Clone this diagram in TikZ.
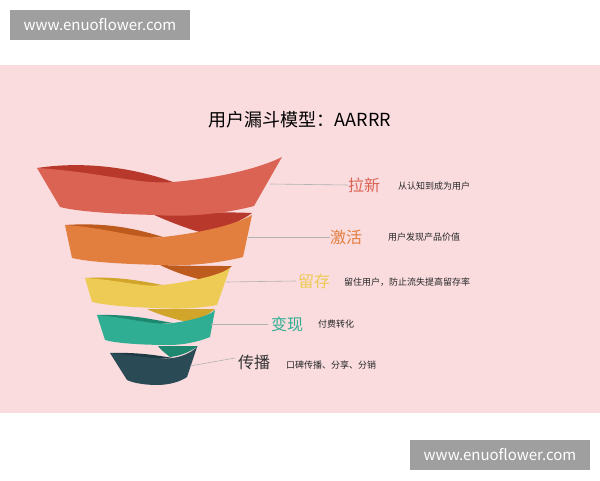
\documentclass[tikz,border=0pt]{standalone}
\usepackage{fontspec}
\setmainfont{Noto Sans CJK SC}
\begin{document}
\begin{tikzpicture}[x=1pt,y=-1pt,
  lead/.style={draw=gray!60,line width=0.6pt},
  big/.style={font=\fontsize{16}{18}\selectfont,anchor=west,inner sep=0},
  small/.style={font=\fontsize{9}{11}\selectfont,anchor=west,inner sep=0,text=black!85},
  wm/.style={fill=gray!75,text=white,font=\fontsize{15}{17}\selectfont,minimum width=180pt,minimum height=30pt,inner sep=0}]
\definecolor{bgp}{HTML}{FADCDF}
\definecolor{cr}{HTML}{DB6353}\definecolor{crd}{HTML}{B8392C}
\definecolor{co}{HTML}{E27E3E}\definecolor{cod}{HTML}{BD5A1E}
\definecolor{cy}{HTML}{EDCB55}\definecolor{cyd}{HTML}{D1A42A}
\definecolor{ct}{HTML}{30AE93}\definecolor{ctd}{HTML}{1E8770}
\definecolor{cn}{HTML}{2A4A56}\definecolor{cnd}{HTML}{1D3A44}
\useasboundingbox (0,0) rectangle (600,480);
\fill[white] (0,0) rectangle (600,480);
\fill[bgp] (0,65) rectangle (600,413);
\node[wm] (w1) at (100,25) {www.enuoflower.com};
\node[wm] (w2) at (500,455) {www.enuoflower.com};
\node[font=\fontsize{18}{20}\selectfont] (title) at (300,120) {用户漏斗模型：AARRR};
% red
\fill[crd] (37,168) .. controls (90,160) and (140,170) .. (173,182) -- (150,190) -- cycle;
\fill[crd] (150,213) .. controls (190,212) and (230,212) .. (252,213) .. controls (240,222) and (220,230) .. (203,233) .. controls (185,228) and (165,220) .. (150,213) -- cycle;
\fill[cr] (37,168) .. controls (100,172) and (140,185) .. (173,182) .. controls (220,178) and (260,168) .. (282,157) -- (254,206) .. controls (220,215) and (180,217) .. (157,215) .. controls (110,214) and (75,211) .. (60,207) -- cycle;
% orange
\fill[cod] (65,225) .. controls (110,222) and (140,230) .. (163,237) -- (120,240) -- cycle;
\fill[cod] (160,265) .. controls (190,266) and (215,266) .. (232,266) .. controls (225,272) and (215,278) .. (203,280) .. controls (185,276) and (170,270) .. (160,265) -- cycle;
\fill[co] (65,225) .. controls (110,228) and (140,240) .. (163,237) .. controls (200,233) and (235,225) .. (252,215) -- (243,257) .. controls (215,264) and (185,266) .. (163,265) .. controls (120,264) and (90,262) .. (72,258) -- cycle;
% yellow
\fill[cyd] (85,278) .. controls (120,276) and (145,282) .. (163,285) -- (120,290) -- cycle;
\fill[cyd] (147,309) .. controls (175,309) and (200,309) .. (215,309) .. controls (208,315) and (198,320) .. (187,322) .. controls (170,318) and (155,313) .. (147,309) -- cycle;
\fill[cy] (85,278) .. controls (120,280) and (145,288) .. (163,285) .. controls (195,281) and (220,275) .. (230,268) -- (217,305) .. controls (195,309) and (175,309) .. (157,308) .. controls (125,307) and (105,305) .. (92,302) -- cycle;
% teal
\fill[ctd] (97,315) .. controls (130,314) and (155,320) .. (173,323) -- (130,326) -- cycle;
\fill[ctd] (158,346) .. controls (175,346) and (190,346) .. (198,346) .. controls (190,352) and (180,356) .. (170,357) .. controls (165,353) and (160,349) .. (158,346) -- cycle;
\fill[ct] (97,315) .. controls (130,318) and (155,326) .. (173,323) .. controls (195,320) and (210,315) .. (215,310) -- (210,337) .. controls (195,343) and (180,345) .. (170,345) .. controls (140,345) and (115,343) .. (105,340) -- cycle;
% navy
\fill[cnd] (110,353) .. controls (140,352) and (160,356) .. (173,358) -- (140,360) -- cycle;
\fill[cn] (110,353) .. controls (140,356) and (160,360) .. (173,358) .. controls (185,356) and (193,351) .. (197,347) -- (187,377) .. controls (180,382) and (168,385) .. (157,385) .. controls (145,385) and (133,383) .. (127,380) -- cycle;
% labels
\node[big,text=cr] (l1) at (348,185) {拉新};
\node[small] (s1) at (398,186) {从认知到成为用户};
\node[big,text=co] (l2) at (330,237) {激活};
\node[small] (s2) at (388,237) {用户发现产品价值};
\node[big,text=cy] (l3) at (298,281) {留存};
\node[small] (s3) at (344,282) {留住用户，防止流失提高留存率};
\node[big,text=ct] (l4) at (271,324) {变现};
\node[small] (s4) at (318,324) {付费转化};
\node[big,text=black!80] (l5) at (238,362) {传播};
\node[small] (s5) at (286,365) {口碑传播、分享、分销};
\coordinate (a1) at (270,184); \coordinate (a2) at (248,237);
\coordinate (a3) at (226,282); \coordinate (a4) at (211,324);
\coordinate (a5) at (190,366);
\draw[lead] (a1) -- (l1.west);
\draw[lead] (a2) -- (l2.west);
\draw[lead] (a3) -- ([xshift=-2pt]l3.west);
\draw[lead] (a4) -- ([xshift=-3pt]l4.west);
\draw[lead] (a5) -- ([xshift=-3pt,yshift=4pt]l5.west);
\end{tikzpicture}
\end{document}
